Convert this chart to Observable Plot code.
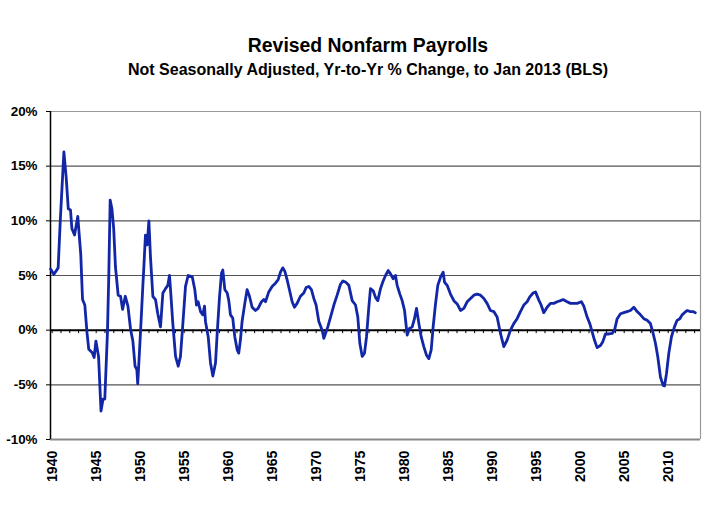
<!DOCTYPE html>
<html>
<head>
<meta charset="utf-8">
<script src="https://cdn.jsdelivr.net/npm/d3@7"></script>
<script src="https://cdn.jsdelivr.net/npm/@observablehq/plot@0.6"></script>
<style>
  html, body { margin: 0; padding: 0; background: #fff; }
  #wrap { position: relative; width: 721px; height: 505px; overflow: hidden; font-family: "Liberation Sans", Arial, sans-serif; }
  .t { position: absolute; left: 0; width: 736px; text-align: center; font-weight: bold; color: #000; white-space: nowrap; }
  #title { top: 35px; font-size: 19.4px; line-height: 20px; }
  #subtitle { top: 60.5px; font-size: 16px; line-height: 18px; }
  #chart { position: absolute; left: 0; top: 0; }
</style>
</head>
<body>
<div id="wrap">
  <div id="chart"></div>
  <div class="t" id="title">Revised Nonfarm Payrolls</div>
  <div class="t" id="subtitle">Not Seasonally Adjusted, Yr-to-Yr % Change, to Jan 2013 (BLS)</div>
</div>
<script>
// Decimal year of each reading
const dates = [
1939.82,1940.18,1940.68,1940.92,1941.33,1941.59,1941.83,1942.08,1942.24,1942.54,
1942.91,1943.25,1943.45,1943.71,1943.96,1944.16,1944.56,1944.77,1944.97,1945.27,
1945.55,1945.78,1945.98,1946.28,1946.43,1946.59,1946.79,1946.99,1947.19,1947.50,
1947.77,1948.00,1948.31,1948.61,1948.91,1949.17,1949.42,1949.62,1949.72,1949.85,
1950.05,1950.30,1950.42,1950.60,1950.80,1950.99,1951.17,1951.44,1951.74,1952.00,
1952.31,1952.58,1952.88,1953.14,1953.33,1953.45,1953.71,1954.02,1954.32,1954.58,
1954.85,1955.15,1955.45,1955.91,1956.21,1956.40,1956.59,1956.86,1957.12,1957.31,
1957.42,1957.73,1957.99,1958.26,1958.56,1958.75,1959.02,1959.24,1959.39,1959.62,
1959.89,1960.07,1960.26,1960.52,1960.75,1961.02,1961.20,1961.39,1961.58,1961.89,
1962.15,1962.42,1962.72,1963.10,1963.40,1963.78,1964.05,1964.24,1964.61,1964.99,
1965.37,1965.67,1965.94,1966.20,1966.43,1966.70,1966.96,1967.27,1967.53,1967.83,
1968.21,1968.59,1968.86,1969.16,1969.46,1969.73,1969.99,1970.30,1970.68,1970.87,
1971.06,1971.32,1971.63,1972.01,1972.38,1972.76,1973.03,1973.33,1973.71,1974.09,
1974.47,1974.73,1974.96,1975.23,1975.49,1975.72,1975.98,1976.17,1976.48,1976.74,
1977.00,1977.31,1977.61,1977.88,1978.18,1978.45,1978.75,1979.01,1979.20,1979.51,
1979.77,1980.04,1980.34,1980.60,1980.91,1981.17,1981.40,1981.67,1981.93,1982.23,
1982.54,1982.80,1983.07,1983.29,1983.56,1983.82,1984.13,1984.43,1984.58,1984.88,
1985.26,1985.64,1986.02,1986.40,1986.78,1987.16,1987.54,1987.92,1988.29,1988.67,
1989.05,1989.42,1989.80,1990.18,1990.56,1990.94,1991.32,1991.70,1992.08,1992.45,
1992.83,1993.21,1993.59,1993.97,1994.27,1994.65,1994.92,1995.30,1995.56,1995.86,
1996.24,1996.62,1997.00,1997.38,1997.76,1998.06,1998.51,1998.89,1999.27,1999.65,
2000.14,2000.41,2000.79,2001.09,2001.36,2001.62,2001.92,2002.30,2002.57,2002.87,
2003.25,2003.63,2003.90,2004.20,2004.58,2004.95,2005.33,2005.71,2006.09,2006.47,
2006.85,2007.23,2007.61,2007.98,2008.29,2008.55,2008.82,2009.12,2009.42,2009.58,
2009.80,2010.07,2010.37,2010.71,2011.01,2011.32,2011.58,2011.85,2012.15,2012.53,
2012.83,2013.08
];
// Yr-to-Yr % change
const pctChange = [
5.6,5.1,5.7,10.0,16.3,14.0,11.1,11.0,9.3,8.7,
10.4,6.9,2.8,2.3,-0.25,-1.75,-2.06,-2.5,-1.0,-2.4,
-7.4,-6.3,-6.3,-0.25,4.9,11.9,11.1,9.3,5.8,3.2,
3.1,1.9,3.1,2.2,0.06,-1.0,-3.3,-3.6,-4.9,-3.0,
0.0,4.0,5.8,8.7,7.8,10.0,6.7,3.1,2.8,1.5,
0.3,3.4,3.8,4.1,5.0,3.7,0.6,-2.4,-3.3,-2.4,
0.6,4.0,5.0,4.9,3.7,2.3,2.6,1.7,1.4,2.2,
0.8,-0.6,-3.0,-4.2,-3.0,-0.3,3.1,5.2,5.5,3.7,
3.4,2.7,1.4,1.1,-0.6,-1.8,-2.1,-0.9,0.8,2.45,
3.7,3.1,2.1,1.8,2.0,2.6,2.8,2.6,3.5,4.0,
4.3,4.6,5.3,5.7,5.4,4.6,3.7,2.6,2.1,2.45,
3.1,3.4,3.9,4.0,3.7,2.9,2.3,0.8,0.0,-0.75,
-0.3,0.3,1.2,2.3,3.2,4.2,4.5,4.4,4.1,2.7,
2.3,1.2,-1.2,-2.4,-2.1,-0.6,2.1,3.8,3.6,3.0,
2.7,3.8,4.5,5.0,5.45,5.15,4.7,5.0,4.1,3.3,
2.7,1.8,-0.45,0.15,0.3,1.05,2.0,0.6,-0.6,-1.5,
-2.3,-2.6,-1.8,0.3,2.4,4.1,4.85,5.3,4.4,4.1,
3.3,2.7,2.4,1.8,2.0,2.6,2.9,3.2,3.3,3.2,
2.9,2.45,1.8,1.7,1.2,-0.3,-1.5,-0.9,0.0,0.6,
1.05,1.7,2.3,2.6,3.05,3.4,3.5,2.75,2.3,1.6,
2.1,2.45,2.45,2.6,2.7,2.8,2.6,2.45,2.45,2.45,
2.6,2.2,1.2,0.6,-0.15,-0.9,-1.6,-1.4,-1.05,-0.35,
-0.35,-0.3,0.0,1.05,1.5,1.6,1.7,1.8,2.1,1.7,
1.4,1.05,0.9,0.6,-0.3,-1.2,-2.45,-4.3,-5.05,-5.1,
-4.0,-2.1,-0.6,0.3,0.9,1.05,1.4,1.6,1.8,1.7,
1.7,1.6
];
const xDomain = [1939.81, 2013.67];
const yDomain = [-10, 20];
const yTicks = [-10, -5, 0, 5, 10, 15, 20];
const yTickLabels = ["-10%", "-5%", "0%", "5%", "10%", "15%", "20%"];
const gridValues = [15, 10, 5, -5];
const xLabelYears = [1940,1945,1950,1955,1960,1965,1970,1975,1980,1985,1990,1995,2000,2005,2010];
const tickYears = d3.range(1940, 2014);

const data = dates.map((t, i) => ({t, v: pctChange[i]}));
const font = "'Liberation Sans', Arial, sans-serif";

const chart = Plot.plot({
  width: 721,
  height: 505,
  marginLeft: 50,
  marginRight: 21,
  marginTop: 111,
  marginBottom: 66,
  x: {domain: xDomain},
  y: {domain: yDomain},
  style: {fontFamily: font, fontWeight: "bold", fontSize: "13.4px", color: "#000", background: "transparent"},
  marks: [
    Plot.ruleY(gridValues, {stroke: "#555", strokeWidth: 1.2}),
    Plot.ruleY([yDomain[1]], {stroke: "#999", strokeWidth: 1.2}),
    Plot.ruleY([yDomain[0]], {stroke: "#888", strokeWidth: 2}),
    Plot.ruleX([xDomain[1]], {stroke: "#999", strokeWidth: 1.2}),
    Plot.ruleX([xDomain[0]], {stroke: "#000", strokeWidth: 1.5}),
    Plot.axisY({ticks: yTicks, tickFormat: (d) => yTickLabels[yTicks.indexOf(d)], tickSize: 4, tickPadding: 9, label: null, fontSize: 13.4, fontWeight: "bold", stroke: "#000"}),
    Plot.axisX({ticks: xLabelYears, tickFormat: (d) => String(d), tickRotate: -90, tickSize: 0, tickPadding: 11, label: null, fontSize: 14.2, fontWeight: "bold"}),
    Plot.ruleY([0], {stroke: "#000", strokeWidth: 2}),
    Plot.ruleX(tickYears, {x: (d) => d, y1: 0, y2: 0, insetTop: 0, insetBottom: -3.5, stroke: "#000", strokeWidth: 1}),
    Plot.line(data, {x: "t", y: "v", stroke: "#1226a8", strokeWidth: 2.8, strokeLinejoin: "round"})
  ]
});
document.getElementById("chart").appendChild(chart);
</script>
</body>
</html>
